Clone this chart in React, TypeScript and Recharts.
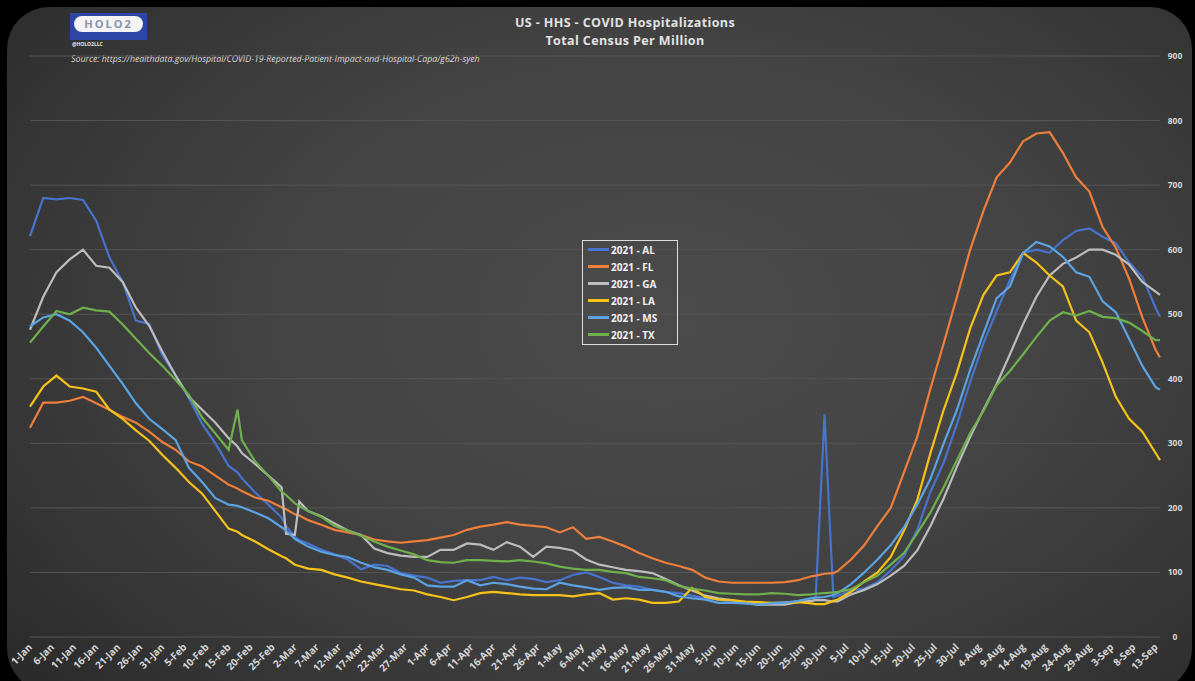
import React from 'react';
import { CartesianGrid, Legend, Line, LineChart, XAxis, YAxis } from 'recharts';

// day index from 1-Jan-2021
const days = [
  0, 3, 6, 9, 12, 15, 18, 21, 24, 27, 30, 33, 36, 39, 42, 45, 47, 48, 51, 54, 57, 58, 60, 61,
  63, 66, 69, 72, 75, 78, 81, 84, 87, 90, 93, 96, 99, 102, 105, 108, 111, 114, 117, 120, 123,
  126, 129, 132, 135, 138, 141, 144, 147, 150, 153, 156, 159, 162, 165, 168, 171, 174, 177,
  178, 180, 182, 183, 186, 189, 192, 195, 198, 201, 204, 207, 210, 213, 216, 219, 222, 225,
  228, 231, 234, 237, 240, 243, 246, 249, 252, 255, 256,
];

const al = [
  621, 680, 678, 680, 677, 645, 588, 550, 490, 485, 436, 405, 370, 330, 300, 265, 255, 246, 224, 205, 185, 172, 155, 150,
  145, 135, 128, 120, 105, 112, 110, 99, 95, 92, 84, 87, 88, 88, 93, 88, 92, 90, 85, 88, 96,
  100, 93, 84, 80, 78, 73, 70, 68, 64, 60, 58, 54, 52, 50, 53, 54, 54, 60,
  62, 345, 62, 64, 72, 75, 85, 103, 125, 166, 225, 270, 330, 395, 455, 505, 553, 595,
  600, 595, 615, 629, 633, 620, 610, 580, 558, 510, 496,
];

const fl = [
  324, 363, 363, 366, 372, 362, 352, 341, 332, 318, 302, 290, 272, 264, 250, 236, 230, 226, 216, 211, 201, 198, 190, 188,
  181, 174, 166, 162, 158, 151, 148, 146, 148, 150, 154, 158, 166, 171, 174, 178, 174, 172, 170, 162, 170,
  152, 155, 148, 140, 130, 122, 115, 110, 104, 92, 86, 84, 84, 84, 84, 85, 88, 94,
  95, 98, 99, 102, 120, 142, 172, 200, 255, 310, 385, 455, 527, 600, 660, 712, 735, 768,
  780, 782, 750, 712, 690, 635, 603, 555, 495, 445, 433,
];

const ga = [
  476, 527, 565, 585, 600, 575, 572, 550, 510, 482, 442, 405, 372, 352, 332, 308, 295, 285, 268, 250, 232, 160, 158, 210,
  195, 187, 176, 165, 158, 137, 130, 126, 124, 124, 135, 135, 145, 143, 135, 147, 140, 124, 140, 138, 134,
  120, 112, 108, 104, 102, 99, 90, 80, 72, 64, 60, 57, 53, 50, 50, 50, 54, 56,
  57, 57, 55, 55, 66, 73, 82, 95, 110, 134, 172, 215, 264, 310, 352, 392, 438, 485,
  527, 560, 578, 588, 600, 600, 592, 577, 550, 535, 530,
];

const la = [
  357, 388, 405, 388, 385, 380, 352, 338, 320, 304, 282, 262, 240, 222, 195, 168, 163, 158, 148, 136, 125, 122, 112, 110,
  106, 104, 97, 92, 86, 82, 78, 74, 72, 66, 62, 57, 62, 68, 70, 68, 66, 65, 65, 65, 63,
  66, 68, 58, 60, 58, 53, 53, 55, 76, 62, 58, 57, 55, 54, 53, 53, 54, 52,
  51, 51, 56, 58, 70, 86, 100, 124, 165, 212, 285, 352, 410, 478, 530, 560, 565, 595,
  580, 560, 543, 490, 472, 425, 372, 338, 318, 285, 274,
];

const ms = [
  481, 495, 500, 490, 472, 448, 420, 392, 362, 338, 322, 305, 262, 240, 215, 205, 203, 201, 193, 184, 170, 165, 152, 148,
  140, 132, 127, 124, 115, 108, 104, 97, 92, 80, 78, 78, 88, 80, 84, 82, 78, 75, 74, 84, 80,
  77, 73, 76, 77, 73, 73, 70, 63, 60, 58, 53, 53, 52, 50, 52, 53, 56, 60,
  61, 62, 65, 68, 82, 100, 120, 142, 170, 205, 245, 300, 352, 414, 470, 525, 543, 595,
  612, 605, 589, 565, 558, 520, 503, 462, 420, 387, 383,
];

const tx = [
  456, 481, 505, 500, 510, 506, 504, 484, 462, 440, 420, 398, 375, 340, 315, 290, 352, 305, 272, 250, 225, 220, 207, 203,
  195, 186, 172, 165, 157, 148, 140, 134, 128, 119, 116, 115, 119, 119, 118, 117, 119, 117, 114, 109, 106,
  104, 104, 101, 99, 93, 91, 88, 79, 75, 72, 68, 67, 66, 66, 68, 67, 65, 66,
  67, 68, 69, 70, 74, 85, 95, 112, 130, 161, 193, 232, 274, 316, 350, 390, 412, 438,
  465, 490, 503, 498, 505, 496, 494, 487, 474, 460, 460,
];

const tickDays = [
  0, 5, 10, 15, 20, 25, 30, 35, 40, 45, 50, 55, 60, 65, 70, 75, 80, 85, 90, 95, 100, 105, 110,
  115, 120, 125, 130, 135, 140, 145, 150, 155, 160, 165, 170, 175, 180, 185, 190, 195, 200,
  205, 210, 215, 220, 225, 230, 235, 240, 245, 250, 255,
];

const tickLabels = [
  '1-Jan', '6-Jan', '11-Jan', '16-Jan', '21-Jan', '26-Jan', '31-Jan', '5-Feb', '10-Feb',
  '15-Feb', '20-Feb', '25-Feb', '2-Mar', '7-Mar', '12-Mar', '17-Mar', '22-Mar', '27-Mar',
  '1-Apr', '6-Apr', '11-Apr', '16-Apr', '21-Apr', '26-Apr', '1-May', '6-May', '11-May',
  '16-May', '21-May', '26-May', '31-May', '5-Jun', '10-Jun', '15-Jun', '20-Jun', '25-Jun',
  '30-Jun', '5-Jul', '10-Jul', '15-Jul', '20-Jul', '25-Jul', '30-Jul', '4-Aug', '9-Aug',
  '14-Aug', '19-Aug', '24-Aug', '29-Aug', '3-Sep', '8-Sep', '13-Sep',
];

const yTicks = [0, 100, 200, 300, 400, 500, 600, 700, 800, 900];

const series = [
  { key: 'al', name: '2021 - AL', color: '#4873cc', values: al },
  { key: 'fl', name: '2021 - FL', color: '#ee7f3c', values: fl },
  { key: 'ga', name: '2021 - GA', color: '#bdbdbd', values: ga },
  { key: 'la', name: '2021 - LA', color: '#f7c318', values: la },
  { key: 'ms', name: '2021 - MS', color: '#5ba3e2', values: ms },
  { key: 'tx', name: '2021 - TX', color: '#6fb04c', values: tx },
];

const rows = days.map((day, i) => {
  const row: Record<string, number> = { day };
  series.forEach((s) => {
    row[s.key] = s.values[i];
  });
  return row;
});

const FONT = '"Open Sans", "DejaVu Sans", sans-serif';

function XTick({ x, y, payload }: any) {
  const idx = tickDays.indexOf(payload.value);
  return (
    <text
      x={x}
      y={y}
      dy={4}
      transform={`rotate(-45 ${x} ${y})`}
      textAnchor="end"
      fill="#d6d6d6"
      fontSize={10}
      fontWeight={700}
      fontFamily={FONT}
    >
      {tickLabels[idx]}
    </text>
  );
}

function YTick({ x, y, payload }: any) {
  return (
    <text
      x={x + 7}
      y={y}
      dy={3}
      textAnchor="middle"
      fill="#d6d6d6"
      fontSize={8.5}
      fontWeight={700}
      fontFamily={FONT}
    >
      {payload.value}
    </text>
  );
}

function LegendBox({ payload }: any) {
  return (
    <div
      style={{
        border: '1.5px solid #dcdcdc',
        width: 96,
        height: 105,
        boxSizing: 'border-box',
      }}
    >
      {(payload || []).map((p: any) => (
        <div key={p.value} style={{ display: 'flex', alignItems: 'center', height: 17 }}>
          <span
            style={{
              display: 'inline-block',
              width: 21,
              height: 2.5,
              background: p.color,
              marginLeft: 5,
              marginRight: 2,
            }}
          />
          <span
            style={{
              color: '#f2f2f2',
              fontSize: 10,
              fontWeight: 700,
              fontFamily: FONT,
              whiteSpace: 'nowrap',
            }}
          >
            {p.value}
          </span>
        </div>
      ))}
    </div>
  );
}

export default function App() {
  return (
    <div
      style={{
        position: 'absolute',
        left: 0,
        top: 0,
        width: 1195,
        height: 681,
        background: '#000',
        overflow: 'hidden',
      }}
    >
      <div
        style={{
          position: 'absolute',
          left: 7,
          top: 7,
          width: 1185,
          height: 684,
          borderRadius: 42,
          background:
            'radial-gradient(ellipse 70% 80% at 55% 45%, #4b4b4b 0%, #444 45%, #363636 80%, #2b2b2b 100%)',
        }}
      />

      {/* logo */}
      <div
        style={{
          position: 'absolute',
          left: 70,
          top: 13,
          width: 77,
          height: 27,
          background: '#2d46a6',
        }}
      >
        <div
          style={{
            position: 'absolute',
            left: 4,
            top: 3,
            width: 69,
            height: 16,
            borderRadius: 8,
            background: '#f4f4f4',
            color: '#8a93a8',
            fontFamily: FONT,
            fontWeight: 700,
            fontSize: 11,
            lineHeight: '16px',
            letterSpacing: 2,
            textAlign: 'center',
          }}
        >
          HOLO2
        </div>
      </div>
      <div
        style={{
          position: 'absolute',
          left: 72,
          top: 41,
          color: '#e8e8e8',
          fontFamily: FONT,
          fontWeight: 700,
          fontSize: 5,
        }}
      >
        @HOLO2LLC
      </div>
      <div
        style={{
          position: 'absolute',
          left: 71,
          top: 53,
          color: '#dcdcdc',
          fontFamily: FONT,
          fontStyle: 'italic',
          fontSize: 8.8,
          whiteSpace: 'nowrap',
        }}
      >
        Source: https://healthdata.gov/Hospital/COVID-19-Reported-Patient-Impact-and-Hospital-Capa/g62h-syeh
      </div>

      {/* title */}
      <div
        style={{
          position: 'absolute',
          left: 425,
          top: 14,
          width: 400,
          textAlign: 'center',
          color: '#e2e2e2',
          fontFamily: FONT,
          fontWeight: 700,
          fontSize: 12.5,
          letterSpacing: 0.4,
          lineHeight: '18px',
        }}
      >
        <div>US - HHS - COVID Hospitalizations</div>
        <div>Total Census Per Million</div>
      </div>

      <div style={{ position: 'absolute', left: 0, top: 0 }}>
        <LineChart
          width={1195}
          height={681}
          data={rows}
          margin={{ top: 56, right: 0, bottom: 0, left: 30 }}
        >
          <CartesianGrid vertical={false} stroke="#555" strokeWidth={1} />
          <XAxis
            dataKey="day"
            type="number"
            domain={[0, 256]}
            ticks={tickDays}
            interval={0}
            tick={<XTick />}
            tickLine={false}
            axisLine={false}
            height={44}
          />
          <YAxis
            orientation="right"
            domain={[0, 900]}
            ticks={yTicks}
            tick={<YTick />}
            tickLine={false}
            axisLine={false}
            width={35}
          />
          <Legend
            layout="vertical"
            align="center"
            verticalAlign="middle"
            content={<LegendBox />}
            wrapperStyle={{ left: 582, top: 240, width: 96, height: 105 }}
          />
          {series.map((s) => (
            <Line
              key={s.key}
              type="linear"
              dataKey={s.key}
              name={s.name}
              stroke={s.color}
              strokeWidth={2.2}
              dot={false}
              isAnimationActive={false}
            />
          ))}
        </LineChart>
      </div>
    </div>
  );
}
